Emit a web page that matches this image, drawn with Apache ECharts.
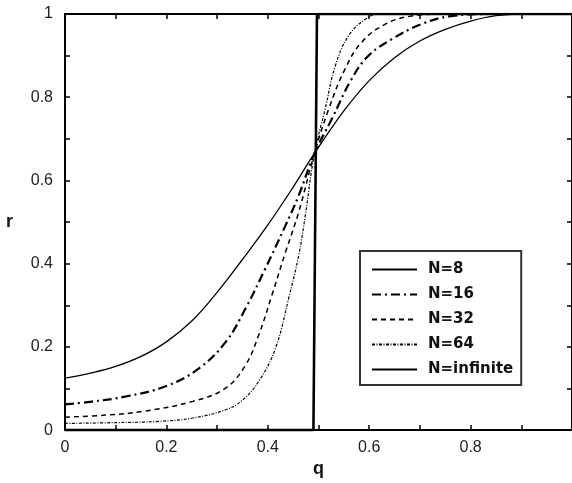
<!DOCTYPE html>
<html>
<head>
<meta charset="utf-8">
<script src="https://cdn.jsdelivr.net/npm/echarts@6/dist/echarts.min.js"></script>
<style>html,body{margin:0;padding:0;background:#fff}#c{width:572px;height:483px}</style>
</head>
<body>
<div id="c"></div>
<script>
const seriesNames = ['N=8', 'N=16', 'N=32', 'N=64', 'N=infinite'];
const xTicks = [0, 0.2, 0.4, 0.6, 0.8, 1];
const yTicks = [0, 0.2, 0.4, 0.6, 0.8, 1];

const q8 = [0, 0.05, 0.1, 0.15, 0.2, 0.25, 0.3, 0.35, 0.4, 0.45, 0.492, 0.55, 0.6, 0.65, 0.7, 0.75, 0.8, 0.85, 0.9, 1];
const r8 = [0.125, 0.137, 0.153, 0.177, 0.212, 0.262, 0.331, 0.41, 0.493, 0.584, 0.665, 0.767, 0.84, 0.895, 0.935, 0.963, 0.983, 0.996, 1, 1];

const q16 = [0, 0.05, 0.121, 0.2, 0.265, 0.317, 0.356, 0.395, 0.435, 0.461, 0.492, 0.526, 0.565, 0.598, 0.644, 0.702, 0.761, 0.85, 1];
const r16 = [0.062, 0.068, 0.081, 0.106, 0.149, 0.212, 0.292, 0.388, 0.492, 0.564, 0.665, 0.747, 0.843, 0.899, 0.939, 0.975, 0.995, 1, 1];

const q32 = [0, 0.08, 0.154, 0.252, 0.317, 0.356, 0.382, 0.408, 0.435, 0.461, 0.492, 0.52, 0.552, 0.585, 0.631, 0.683, 0.75, 1];
const r32 = [0.031, 0.036, 0.045, 0.069, 0.101, 0.156, 0.228, 0.324, 0.428, 0.524, 0.665, 0.771, 0.867, 0.932, 0.975, 0.995, 1, 1];

const q64 = [0, 0.1, 0.186, 0.252, 0.317, 0.35, 0.382, 0.415, 0.441, 0.461, 0.474, 0.492, 0.513, 0.533, 0.559, 0.592, 0.62, 0.7, 1];
const r64 = [0.016, 0.018, 0.021, 0.029, 0.049, 0.072, 0.117, 0.196, 0.316, 0.42, 0.516, 0.665, 0.771, 0.875, 0.947, 0.987, 1, 1, 1];

const qInf = [0, 0.49, 0.497, 1];
const rInf = [0, 0, 1, 1];

const zip = (a, b) => a.map((v, i) => [v, b[i]]);

const styles = [
  { width: 1.3, type: 'solid' },
  { width: 2.2, type: [9, 4, 2, 4] },
  { width: 1.5, type: [5, 4] },
  { width: 1.2, type: [3, 1.5, 1, 1.5] },
  { width: 2.6, type: 'solid' }
];
const data = [zip(q8, r8), zip(q16, r16), zip(q32, r32), zip(q64, r64), zip(qInf, rInf)];

const tickFont = { fontFamily: 'Liberation Sans', fontSize: 16, color: '#222' };
const axisLine = { show: true, onZero: false, lineStyle: { color: '#000', width: 2 } };
const tick = { show: true, inside: true, length: 5, lineStyle: { color: '#000', width: 1.5 } };
const minor = { show: true, splitNumber: 2, length: 5, lineStyle: { color: '#000', width: 1.5 } };

const chart = echarts.init(document.getElementById('c'), null, { renderer: 'canvas' });
chart.setOption({
  backgroundColor: '#fff',
  animation: false,
  grid: { left: 65, right: -3, top: 14, bottom: 51 },
  legend: {
    orient: 'vertical',
    left: 360, top: 251,
    data: seriesNames,
    itemWidth: 45, itemHeight: 14, itemGap: 10,
    padding: [11, 8, 8, 11],
    borderColor: '#333', borderWidth: 2,
    backgroundColor: '#fff',
    selectedMode: false,
    itemStyle: { color: 'rgba(0,0,0,0)', borderWidth: 0, opacity: 0 },
    textStyle: { fontFamily: 'DejaVu Sans', fontWeight: 'bold', fontSize: 15, color: '#111', padding: [0, 0, 0, 6] }
  },
  xAxis: [{
    type: 'value', min: xTicks[0], max: xTicks[xTicks.length - 1], interval: 0.2,
    position: 'bottom',
    name: 'q', nameLocation: 'middle', nameGap: 27,
    nameTextStyle: { fontFamily: 'Liberation Sans', fontWeight: 'bold', fontSize: 18, color: '#111' },
    axisLine: axisLine, axisTick: tick, minorTick: minor,
    splitLine: { show: false },
    axisLabel: Object.assign({ margin: 9, showMaxLabel: false, formatter: v => String(+v.toFixed(1)) }, tickFont)
  }, {
    type: 'value', min: 0, max: 1, interval: 0.2, position: 'top',
    axisLine: axisLine, axisTick: tick, minorTick: minor,
    splitLine: { show: false }, axisLabel: { show: false }
  }],
  yAxis: [{
    type: 'value', min: yTicks[0], max: yTicks[yTicks.length - 1], interval: 0.2,
    position: 'left',
    name: 'r', nameLocation: 'middle', nameGap: 52, nameRotate: 0,
    nameTextStyle: { fontFamily: 'Liberation Sans', fontWeight: 'bold', fontSize: 18, color: '#111' },
    axisLine: axisLine, axisTick: tick, minorTick: minor,
    splitLine: { show: false },
    axisLabel: Object.assign({ margin: 12, formatter: v => String(+v.toFixed(1)) }, tickFont)
  }, {
    type: 'value', min: 0, max: 1, interval: 0.2, position: 'right',
    axisLine: axisLine, axisTick: tick, minorTick: minor,
    splitLine: { show: false }, axisLabel: { show: false }
  }],
  series: seriesNames.map((n, i) => ({
    name: n, type: 'line', data: data[i],
    xAxisIndex: 0, yAxisIndex: 0,
    showSymbol: false, symbol: 'none',
    smooth: i === 4 ? false : 0.4,
    lineStyle: { color: '#000', width: styles[i].width, type: styles[i].type },
    itemStyle: { color: '#000' },
    z: i === 4 ? 3 : 2
  }))
});
</script>
</body>
</html>
